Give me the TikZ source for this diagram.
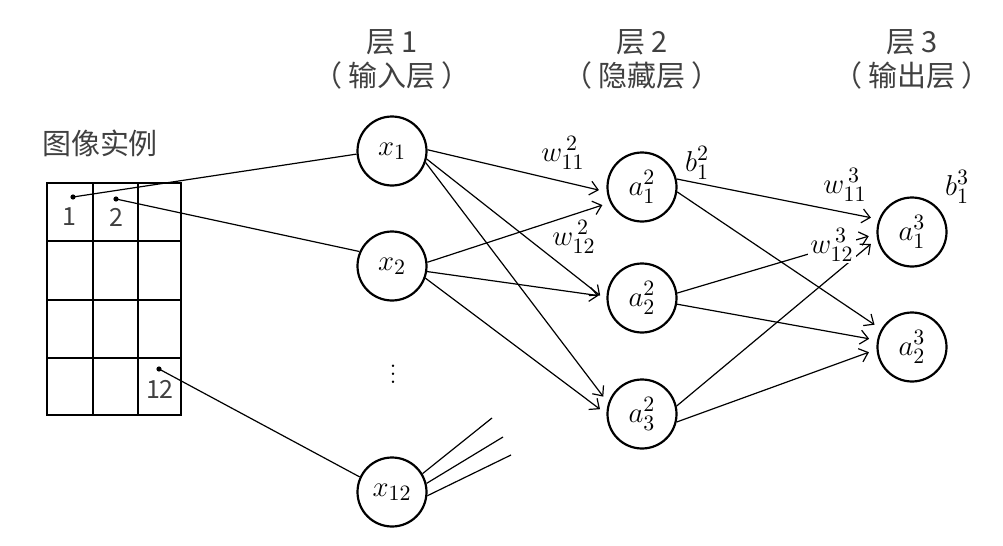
\documentclass[tikz,border=0pt]{standalone}
\usepackage{fontspec}
\usepackage{amsmath}
\newfontfamily\cjk{Noto Sans CJK SC}
\usetikzlibrary{arrows.meta}
\begin{document}
\begin{tikzpicture}[x=0.5pt,y=-0.5pt,
	neuron/.style={draw,circle,line width=1.1pt,minimum size=34.5pt,inner sep=0pt,font=\fontsize{15}{18}\selectfont},
	link/.style={line width=0.6pt,-{Straight Barb[length=4pt,width=7pt]},shorten >=4pt},
	wire/.style={line width=0.6pt},
	layer/.style={align=center,text=black!75,font=\cjk\fontsize{14.5}{17}\selectfont},
	num/.style={text=black!75,font=\cjk\fontsize{12.5}{14}\selectfont,inner sep=0pt},
	pix/.style={circle,fill,inner sep=0pt,minimum size=2.6pt},
	lab/.style={font=\fontsize{15}{18}\selectfont,inner sep=1pt}]
	\useasboundingbox(0,0)rectangle(1003,546);
	\node[layer](l1)at(392,59){层 1\\（\hspace{3pt}输入层\hspace{3pt}）};
	\node[layer](l2)at(642,59){层 2\\（\hspace{3pt}隐藏层\hspace{3pt}）};
	\node[layer](l3)at(912,59){层 3\\（\hspace{3pt}输出层\hspace{3pt}）};
	\node[layer](img)at(100,143){图像实例};
	\draw[line width=0.8pt](47,183)rectangle(181,415);
	\foreach \x in {93,138}\draw[line width=0.8pt](\x,183)--(\x,415);
	\foreach \y in {241,300,358}\draw[line width=0.8pt](47,\y)--(181,\y);
	\node[num](n1)at(69,217){1};
	\node[num](n2)at(116,217){2};
	\node[num](n12)at(160,389){12};
	\node[pix](d1)at(73,197){};
	\node[pix](d2)at(116,199){};
	\node[pix](d12)at(159,369){};
	\node[neuron](x1)at(392,151){$x_1$};
	\node[neuron](x2)at(392,266){$x_2$};
	\node[neuron](x12)at(392,492){$x_{12}$};
	\node[lab](vd)at(393,368){$\vdots$};
	\node[neuron](a1)at(642,187){$a^2_1$};
	\node[neuron](a2)at(642,298){$a^2_2$};
	\node[neuron](a3)at(642,414){$a^2_3$};
	\node[neuron](o1)at(912,232){$a^3_1$};
	\node[neuron](o2)at(912,347){$a^3_2$};
	\draw[wire](d1.center)--(x1.185);
	\draw[wire](d2.center)--(x2.156);
	\draw[wire](d12.center)--(x12.155);
	\coordinate(s1)at(492,418);
	\coordinate(s2)at(503,437);
	\coordinate(s3)at(511,455);
	\draw[wire](x12.31)--(s1);
	\draw[wire](x12.14)--(s2);
	\draw[wire](x12.-6)--(s3);
	\draw[link](x1.2)--(a1.188);
	\draw[link](x1.-13)--(a2.184);
	\draw[link](x1.-19)--(a3.162);
	\draw[link](x2.6)--(a1.206);
	\draw[link](x2.-9)--(a2.178);
	\draw[link](x2.-20)--(a3.180);
	\draw[link](a1.13)--(o1.159);
	\draw[link](a1.-8)--(o2.150);
	\draw[link](a2.8)--(o1.183);
	\draw[link](a2.-10)--(o2.169);
	\draw[link](a3.13)--(o1.191);
	\draw[link](a3.-13)--(o2.184);
	\node[lab](w112)at(563,153){$w^{\,2}_{11}$};
	\node[lab](w122)at(574,237){$w^{\,2}_{12}$};
	\node[lab](b12)at(697,163){$b^2_1$};
	\node[lab](w113)at(845,185){$w^{\,3}_{11}$};
	\node[lab,fill=white](w123)at(832,245){$w^{\,3}_{12}$};
	\node[lab](b13)at(957,187){$b^3_1$};
\end{tikzpicture}
\end{document}
